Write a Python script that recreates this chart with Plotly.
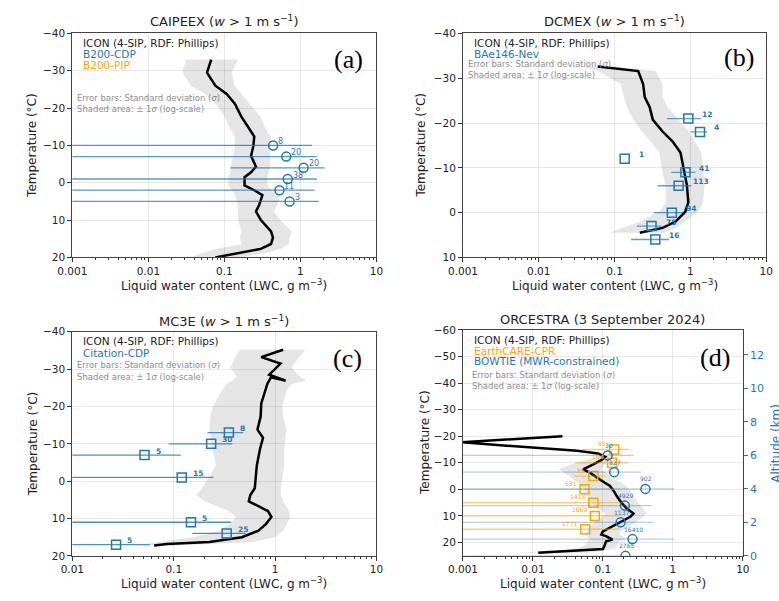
import math
import plotly.graph_objects as go

W, H = 779, 601

# ---------------- (a) CAIPEEX ----------------
a_temp = [-33.0, -29.5, -26.0, -23.8, -21.2, -17.7, -15.0, -12.4, -9.8, -7.2, -4.3, -2.8, -1.5,
          0.7, 2.0, 3.3, 5.9, 7.7, 9.9, 13.0, 14.7, 16.4, 17.7, 18.6, 19.3, 20.0]
a_lwc = [0.067, 0.059, 0.076, 0.107, 0.137, 0.167, 0.204, 0.247, 0.240, 0.224, 0.260, 0.224, 0.184,
         0.184, 0.247, 0.316, 0.287, 0.260, 0.300, 0.410, 0.435, 0.410, 0.300, 0.167, 0.112, 0.076]
a_lo = [0.031, 0.028, 0.036, 0.056, 0.076, 0.102, 0.115, 0.137, 0.137, 0.130, 0.124, 0.118, 0.113,
        0.113, 0.125, 0.137, 0.151, 0.151, 0.151, 0.167, 0.160, 0.170, 0.080, 0.055, 0.045, 0.035]
a_hi = [0.151, 0.124, 0.137, 0.167, 0.213, 0.301, 0.340, 0.404, 0.404, 0.400, 0.404, 0.380, 0.366,
        0.366, 0.420, 0.544, 0.500, 0.446, 0.544, 0.767, 0.720, 0.700, 0.550, 0.400, 0.250, 0.160]
a_obs_temp = [-10, -7, -4, -1, 2, 5]
a_obs_lwc = [0.437, 0.65, 1.10, 0.68, 0.53, 0.72]
a_obs_sd = [0.99, 0.99, 0.98, 0.96, 1.00, 1.02]
a_obs_n = ["8", "20", "20", "38", "11", "3"]

# ---------------- (b) DCMEX ----------------
b_temp = [-32.6, -31.6, -28.7, -25.8, -23.6, -20.7, -18.1, -15.9, -13.4, -9.7, -6.1, -2.3, -0.2, 2.0, 3.4, 4.5]
b_lwc = [0.060, 0.205, 0.238, 0.250, 0.290, 0.320, 0.430, 0.580, 0.740, 0.810, 0.900, 0.940, 0.855, 0.640, 0.430, 0.215]
b_lo = [0.035, 0.060, 0.120, 0.135, 0.145, 0.177, 0.230, 0.300, 0.390, 0.420, 0.470, 0.470, 0.390, 0.215, 0.130, 0.085]
b_hi = [0.100, 0.350, 0.430, 0.430, 0.500, 0.700, 0.950, 1.150, 1.400, 1.470, 1.540, 1.470, 1.270, 0.855, 0.650, 0.450]
b_obs_temp = [-21, -18, -12, -9, -6, 0, 3, 6]
b_obs_lwc = [0.94, 1.34, 0.136, 0.86, 0.70, 0.57, 0.307, 0.345]
b_obs_sd = [0.45, 0.33, 0.0, 0.30, 0.33, 0.24, 0.11, 0.18]
b_obs_n = ["12", "4", "1", "41", "113", "94", "75", "16"]

# ---------------- (c) MC3E ----------------
c_temp = [-35.2, -33.2, -31.5, -28.5, -26.9, -27.8, -26.1, -23.4, -20.8, -17.3, -13.8, -11.6, -8.6, -4.2,
          1.9, 3.7, 5.4, 8.0, 9.6, 11.5, 13.3, 15.0, 16.3, 16.8, 17.2]
c_lwc = [1.20, 0.73, 1.13, 0.875, 1.27, 0.91, 0.84, 0.78, 0.73, 0.72, 0.67, 0.76, 0.71, 0.66,
         0.63, 0.57, 0.55, 0.85, 0.92, 0.81, 0.68, 0.47, 0.225, 0.086, 0.064]
c_band_temp = [-35.2, -33.0, -30.4, -28.0, -26.9, -26.0, -24.3, -20.0, -17.3, -13.8, -11.6, -8.6, -4.2,
               1.9, 3.7, 5.4, 8.0, 9.6, 11.5, 13.3, 15.0, 16.3, 16.8, 17.2]
c_lo = [0.45, 0.40, 0.36, 0.42, 0.38, 0.33, 0.30, 0.243, 0.23, 0.225, 0.23, 0.243, 0.26,
        0.19, 0.167, 0.20, 0.35, 0.41, 0.36, 0.28, 0.155, 0.07, 0.051, 0.05]
c_hi = [2.00, 1.70, 1.45, 1.75, 2.05, 1.45, 1.30, 1.18, 1.20, 1.30, 1.26, 1.23, 1.23,
        1.14, 1.14, 1.20, 1.38, 1.42, 1.30, 1.20, 0.99, 0.60, 0.225, 0.10]
c_obs_temp = [-13, -10, -7, -1, 11, 14, 17]
c_obs_lwc = [0.35, 0.234, 0.0515, 0.12, 0.148, 0.333, 0.027]
c_obs_sd = [0.135, 0.145, 0.066, 0.126, 0.22, 0.18, 0.031]
c_obs_n = ["8", "30", "5", "15", "5", "25", "5"]

# ---------------- (d) ORCESTRA ----------------
d_temp = [-20.0, -17.7, -14.5, -13.5, -12.2, -11.2, -9.4, -7.5, -6.3, -4.5, -2.6, -1.4, 0.5, 2.9, 5.4,
          7.2, 9.1, 10.3, 11.9, 14.0, 15.8, 17.0, 17.6, 18.9, 19.5, 21.3, 22.4, 23.8]
d_lwc = [0.0264, 0.00095, 0.043, 0.085, 0.108, 0.098, 0.073, 0.052, 0.065, 0.081, 0.105, 0.125, 0.142,
         0.161, 0.189, 0.220, 0.274, 0.246, 0.189, 0.130, 0.100, 0.095, 0.111, 0.137, 0.111, 0.105, 0.100, 0.0119]
d_lo = [0.024, 0.0009, 0.040, 0.075, 0.090, 0.060, 0.035, 0.023, 0.028, 0.035, 0.043, 0.050, 0.055,
        0.060, 0.070, 0.080, 0.110, 0.100, 0.080, 0.065, 0.058, 0.055, 0.060, 0.065, 0.060, 0.055, 0.040, 0.006]
d_hi = [0.032, 0.001, 0.046, 0.095, 0.125, 0.120, 0.105, 0.095, 0.110, 0.130, 0.180, 0.210, 0.250,
        0.270, 0.330, 0.380, 0.420, 0.380, 0.310, 0.240, 0.180, 0.170, 0.190, 0.210, 0.170, 0.160, 0.150, 0.060]
# EarthCARE-CPR (temperature levels)
ec_temp = [-15, -10, -5, 0, 5, 10, 15]
ec_lwc = [0.145, 0.135, 0.073, 0.0546, 0.073, 0.0767, 0.0558]
ec_sd = [0.095, 0.095, 0.034, 0.125, 0.10, 0.09, 0.115]
ec_n = ["93", "104", "55", "631", "1413", "1869", "1771"]
# BOWTIE (altitude levels, km)
bt_alt = [6, 5, 4, 3, 2, 1, 0]
bt_lwc = [0.117, 0.145, 0.405, 0.206, 0.179, 0.265, 0.21]
bt_sd = [0.157, 0.21, 0.63, 0.29, 0.34, 0.77, 0.30]
bt_n = ["30", "827", "902", "4929", "1137", "16410", "2765"]

x_tickvals = [0.001, 0.01, 0.1, 1, 10]
x_ticktext = ["0.001", "0.01", "0.1", "1", "10"]
minor_vals = [m * 10.0 ** e for e in range(-3, 1) for m in range(2, 10)]

BLUE = "#1f77b4"
ORANGE = "#FFA500"
FONT = "DejaVu Sans"
BAND = "rgba(0,0,0,0.10)"


def px(x):
    return x / W


def py(y):
    return 1 - y / H


fig = go.Figure()

# panel geometry in pixels: (x0, x1), (ytop, ybottom)
panels = {
    "1": ((59, 372), (28, 257)),
    "2": ((461, 773), (28, 257)),
    "3": ((59, 372), (333, 562)),
    "4": ((461, 749), (331, 562)),
}
xranges = {"1": [-3, 1], "2": [-3, 1], "3": [-2, 1], "4": [-3, 1]}
yranges = {"1": [20, -40], "2": [10, -40], "3": [20, -40], "4": [25, -60]}
yticks = {"1": list(range(-40, 21, 10)), "2": list(range(-40, 11, 10)),
          "3": list(range(-40, 21, 10)), "4": list(range(-60, 21, 10))}

layout = dict(width=W, height=H, margin=dict(l=0, r=0, t=0, b=0), autosize=False,
              paper_bgcolor="white", plot_bgcolor="white", showlegend=False,
              font=dict(family=FONT, color="#222"))

for k, ((x0, x1), (yt, yb)) in panels.items():
    xa = "xaxis" if k == "1" else "xaxis" + k
    ya = "yaxis" if k == "1" else "yaxis" + k
    layout[xa] = dict(domain=[px(x0), px(x1)], anchor="y" if k == "1" else "y" + k,
                      type="log", range=xranges[k], tickmode="array",
                      tickvals=x_tickvals, ticktext=x_ticktext,
                      ticks="outside", ticklen=4, tickwidth=1, tickcolor="#333",
                      showline=True, linecolor="#444", linewidth=1, mirror=True,
                      showgrid=True, gridcolor="rgba(0,0,0,0.09)", gridwidth=1, zeroline=False,
                      minor=dict(tickmode="array", tickvals=minor_vals, ticks="outside",
                                 ticklen=2, tickwidth=0.8, tickcolor="#333", showgrid=False),
                      tickfont=dict(size=10.5, color="#222", family=FONT))
    layout[ya] = dict(domain=[py(yb), py(yt)], anchor="x" if k == "1" else "x" + k,
                      range=yranges[k], tickmode="array", tickvals=yticks[k],
                      ticks="outside", ticklen=4, tickwidth=1, tickcolor="#333",
                      showline=True, linecolor="#444", linewidth=1, mirror=True,
                      showgrid=True, gridcolor="rgba(0,0,0,0.09)", gridwidth=1, zeroline=False,
                      tickfont=dict(size=10.5, color="#222", family=FONT))

# altitude axis on the right of panel (d)
layout["yaxis5"] = dict(domain=[py(562), py(331)], anchor="x4", overlaying="y4", side="right",
                        range=[0, 13.5], tickmode="array", tickvals=[0, 2, 4, 6, 8, 10, 12],
                        ticks="outside", ticklen=4, tickwidth=1, tickcolor=BLUE,
                        showline=False, showgrid=False, zeroline=False,
                        tickfont=dict(size=11, color=BLUE, family=FONT))


def band(temp, lo, hi, xa, ya):
    fig.add_trace(go.Scatter(x=lo + hi[::-1], y=temp + temp[::-1], fill="toself",
                             fillcolor=BAND, line=dict(width=0), mode="lines",
                             hoverinfo="skip", xaxis=xa, yaxis=ya))


def icon(temp, lwc, xa, ya):
    fig.add_trace(go.Scatter(x=lwc, y=temp, mode="lines", line=dict(color="black", width=2.5),
                             xaxis=xa, yaxis=ya))


def obs(temp, lwc, sd, xa, ya, symbol, color, barcolor):
    fig.add_trace(go.Scatter(x=lwc, y=temp, mode="markers",
                             marker=dict(symbol=symbol, size=9, color=color, line=dict(width=1.5, color=color)),
                             error_x=dict(type="data", array=sd, symmetric=True, color=barcolor,
                                          thickness=1.3, width=0),
                             xaxis=xa, yaxis=ya))


annotations = []


def counts(temp, lwc, labels, xref, yref, size, color, bold, xanchor, xshift, yshift):
    for t, v, n in zip(temp, lwc, labels):
        annotations.append(dict(x=math.log10(v), y=t, xref=xref, yref=yref,
                                text=f"<b>{n}</b>" if bold else n, showarrow=False,
                                xanchor=xanchor, yanchor="middle", xshift=xshift, yshift=yshift,
                                font=dict(size=size, color=color, family=FONT)))


# (a)
band(a_temp, a_lo, a_hi, "x", "y")
icon(a_temp, a_lwc, "x", "y")
obs(a_obs_temp, a_obs_lwc, a_obs_sd, "x", "y", "circle-open", BLUE, "rgba(31,119,180,0.75)")
counts(a_obs_temp, a_obs_lwc, a_obs_n, "x", "y", 8, BLUE, False, "left", 3, 4)

# (b)
band(b_temp, b_lo, b_hi, "x2", "y2")
icon(b_temp, b_lwc, "x2", "y2")
obs(b_obs_temp, b_obs_lwc, b_obs_sd, "x2", "y2", "square-open", BLUE, "rgba(31,119,180,0.7)")
counts(b_obs_temp, b_obs_lwc, b_obs_n, "x2", "y2", 7.5, BLUE, True, "left", 12, 4)

# (c)
band(c_band_temp, c_lo, c_hi, "x3", "y3")
icon(c_temp, c_lwc, "x3", "y3")
obs(c_obs_temp, c_obs_lwc, c_obs_sd, "x3", "y3", "square-open", BLUE, "rgba(31,119,180,0.8)")
counts(c_obs_temp, c_obs_lwc, c_obs_n, "x3", "y3", 7.5, BLUE, True, "left", 9, 4)

# (d)
band(d_temp, d_lo, d_hi, "x4", "y4")
icon(d_temp, d_lwc, "x4", "y4")
obs(ec_temp, ec_lwc, ec_sd, "x4", "y4", "square-open", ORANGE, "rgba(255,165,0,0.55)")
counts(ec_temp, ec_lwc, ec_n, "x4", "y4", 6, ORANGE, False, "right", -6, 6)
obs(bt_alt, bt_lwc, bt_sd, "x4", "y5", "circle-open", BLUE, "rgba(31,119,180,0.35)")
counts(bt_alt, bt_lwc, bt_n, "x4", "y5", 6, BLUE, False, "center", 1, 10)


def text(x, y, s, size, color="#222", anchor="left", angle=0, family=FONT):
    annotations.append(dict(x=px(x), y=py(y), xref="paper", yref="paper", text=s, showarrow=False,
                            xanchor=anchor, yanchor="middle", textangle=angle,
                            font=dict(size=size, color=color, family=family)))


GRAY = "#8c8c8c"
LWC_TITLE = "Liquid water content (LWC, g m<sup>−3</sup>)"
T_TITLE = "Temperature (°C)"
ICON_TXT = "ICON (4-SIP, RDF: Phillips)"
ERR_TXT = "Error bars: Standard deviation (<i>σ</i>)"
SHADE_TXT = "Shaded area: ± 1<i>σ</i> (log-scale)"

# titles
text(215.5, 15, "CAIPEEX (<i>w</i> > 1 m s<sup>−1</sup>)", 13, anchor="center")
text(617, 15, "DCMEX (<i>w</i> > 1 m s<sup>−1</sup>)", 13, anchor="center")
text(215.5, 322, "MC3E (<i>w</i> > 1 m s<sup>−1</sup>)", 13, anchor="center")
text(605, 320, "ORCESTRA (3 September 2024)", 13, anchor="center")

# axis titles
for cx, cy in [(215.5, 285), (617, 285), (215.5, 590), (605, 590)]:
    text(cx, cy, LWC_TITLE, 12, anchor="center")
for cx, cy in [(18, 142.5), (418, 142.5), (18, 447.5), (422, 446.5)]:
    text(cx, cy, T_TITLE, 12, anchor="center", angle=-90)
text(783, 446.5, "Altitude (km)", 12, color=BLUE, anchor="center", angle=-90)

# panel letters
for cx, cy, s in [(343, 55, "(a)"), (745, 53, "(b)"), (342, 360, "(c)"), (720, 359, "(d)")]:
    text(cx, cy, s, 26, color="black", anchor="center", family="Liberation Serif")

# in-panel labels
text(68, 37.7, ICON_TXT, 10.5)
text(68, 49.3, "B200-CDP", 10.5, BLUE)
text(68, 60.7, "B200-PIP", 10.5, ORANGE)
text(62, 94.3, ERR_TXT, 8.5, GRAY)
text(62, 105, SHADE_TXT, 8.5, GRAY)

text(470, 37.7, ICON_TXT, 10.5)
text(470, 49.3, "BAe146-Nev", 10.5, BLUE)
text(464, 59.3, ERR_TXT, 8.5, GRAY)
text(464, 71, SHADE_TXT, 8.5, GRAY)

text(68, 342.7, ICON_TXT, 10.5)
text(68, 354.3, "Citation-CDP", 10.5, BLUE)
text(62, 366.7, ERR_TXT, 8.5, GRAY)
text(62, 379.3, SHADE_TXT, 8.5, GRAY)

text(470, 341, ICON_TXT, 10.5)
text(470, 352.3, "EarthCARE-CPR", 10.5, ORANGE)
text(470, 363.3, "BOWTIE (MWR-constrained)", 10.5, BLUE)
text(468.5, 377.3, ERR_TXT, 8.5, GRAY)
text(468.5, 388.3, SHADE_TXT, 8.5, GRAY)

layout["annotations"] = annotations
fig.update_layout(**layout)
fig.write_html("out.html")
